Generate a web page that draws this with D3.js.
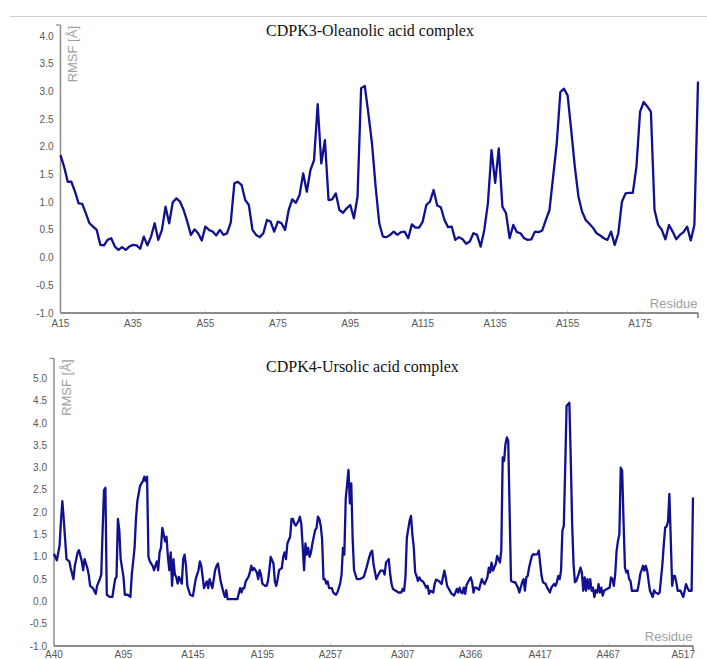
<!DOCTYPE html>
<html>
<head>
<meta charset="utf-8">
<script src="https://cdn.jsdelivr.net/npm/d3@7"></script>
<style>
  body { margin: 0; background: #fff; }
  svg { display: block; }
  .tick-lbl { font-family: "Liberation Sans", Arial, sans-serif; font-size: 10px; fill: #595959; }
  .ax-title { font-family: "Liberation Sans", Arial, sans-serif; font-size: 13px; fill: #a0a0a0; }
  .chart-title { font-family: "Liberation Serif", "Times New Roman", serif; font-size: 16px; fill: #111; }
</style>
</head>
<body>
<svg id="chart" width="707" height="659"></svg>
<script>
// ---- CDPK3 / oleanolic acid : one value per residue, A15 .. A191
var cdpk3FirstResidue = 15;
var cdpk3Rmsf = [
  1.85,1.64,1.37,1.37,1.19,0.98,0.97,0.8,0.62,0.56,
  0.5,0.23,0.22,0.32,0.35,0.2,0.14,0.19,0.14,0.2,
  0.23,0.22,0.16,0.38,0.22,0.38,0.62,0.32,0.5,0.92,
  0.62,1.0,1.07,1.01,0.86,0.65,0.41,0.51,0.44,0.31,
  0.56,0.5,0.47,0.4,0.5,0.41,0.44,0.63,1.34,1.37,
  1.31,1.04,0.95,0.5,0.41,0.37,0.44,0.68,0.65,0.47,
  0.65,0.62,0.5,0.86,1.05,0.99,1.13,1.52,1.19,1.58,
  1.76,2.77,1.7,2.12,1.04,1.05,1.16,0.86,0.81,0.89,
  0.95,0.71,1.1,3.06,3.1,2.6,2.06,1.28,0.62,0.38,
  0.37,0.41,0.47,0.41,0.46,0.47,0.35,0.6,0.54,0.54,
  0.65,0.95,1.01,1.22,0.94,0.91,0.68,0.55,0.56,0.32,
  0.37,0.33,0.25,0.29,0.44,0.41,0.2,0.5,0.98,1.94,
  1.35,1.97,0.92,0.8,0.35,0.59,0.46,0.44,0.35,0.32,
  0.33,0.47,0.46,0.49,0.68,0.86,1.46,2.06,2.99,3.05,
  2.93,2.3,1.64,1.1,0.83,0.68,0.61,0.54,0.44,0.4,
  0.35,0.32,0.47,0.23,0.44,1.01,1.16,1.17,1.17,1.64,
  2.63,2.81,2.73,2.63,0.86,0.59,0.5,0.33,0.59,0.47,
  0.33,0.41,0.46,0.56,0.31,0.59,3.18
];
var cdpk3TickResidues = [15, 35, 55, 75, 95, 115, 135, 155, 175];
var cdpk3YTicks = [-1, -0.5, 0, 0.5, 1, 1.5, 2, 2.5, 3, 3.5, 4];

// ---- CDPK4 / ursolic acid : position in the sequence (0..460) and RMSF
var cdpk4Pos = [
  0,2,4,5,6,7,8,9,11,12,14,15,17,18,20,21,22,24,25,26,28,30,31,33,34,35,36,37,38,40,
  42,44,45,46,47,48,50,51,53,55,56,58,59,60,62,63,64,65,66,67,68,69,70,71,72,74,75,76,77,78,
  80,81,82,83,84,85,86,87,88,89,90,92,93,94,95,96,98,100,102,104,105,106,107,108,110,111,112,113,114,116,
  117,118,119,120,122,123,124,125,129,132,134,135,136,137,138,140,141,142,143,144,146,147,148,149,150,152,153,154,155,156,
  158,159,160,161,162,164,165,166,167,168,170,171,172,173,174,176,177,178,179,180,181,182,183,184,185,186,188,189,190,191,
  192,193,194,195,196,197,198,200,201,203,204,206,207,208,209,210,212,213,214,215,216,218,220,223,225,227,228,229,230,232,
  233,235,237,238,239,241,242,243,244,246,248,250,251,252,253,254,256,257,258,259,260,261,262,263,264,265,266,268,269,270,
  271,273,274,275,277,279,280,281,282,283,285,286,288,289,290,291,292,293,294,295,296,297,298,300,301,302,303,304,306,307,
  308,309,310,312,313,314,315,316,318,319,320,321,322,323,324,325,326,327,328,329,331,332,334,335,337,338,339,340,341,342,
  344,345,346,348,349,350,351,352,354,355,357,358,360,361,362,363,364,365,366,367,368,369,370,371,372,373,374,375,376,378,
  379,380,381,382,383,384,385,386,387,388,389,390,391,392,393,394,395,396,398,400,401,402,403,404,405,406,407,408,409,410,
  411,412,413,414,415,416,418,420,421,422,424,425,426,427,428,429,431,432,433,435,436,438,439,440,441,442,443,445,446,447,
  448,449,451,453,454,455,456,457,459,460
];
var cdpk4Rmsf = [
  1.07,0.92,1.25,1.8,2.25,1.85,1.4,0.95,0.9,0.75,0.5,0.8,1.1,1.15,0.9,0.7,0.95,0.75,0.6,0.35,0.3,0.17,0.35,0.5,0.6,1.6,2.5,2.55,0.15,0.1,
  0.1,0.5,0.55,1.85,1.6,0.95,0.55,0.15,0.15,0.1,0.6,1.2,1.85,2.25,2.6,2.65,2.7,2.8,2.7,2.8,1.0,0.9,0.85,0.8,0.7,0.9,0.7,1.1,1.2,1.65,
  1.35,1.45,1.0,0.7,1.1,0.35,0.95,0.6,0.55,0.4,0.55,0.4,0.95,1.05,0.8,0.35,0.15,0.12,0.5,0.7,0.9,0.8,0.55,0.3,0.45,0.3,0.5,0.4,0.3,0.7,
  0.8,0.85,0.65,0.45,0.2,0.1,0.25,0.05,0.05,0.05,0.3,0.2,0.3,0.3,0.45,0.55,0.65,0.8,0.7,0.75,0.65,0.5,0.7,0.6,0.4,0.35,0.35,0.45,0.7,1.0,
  0.85,0.45,0.35,0.5,0.7,0.75,1.0,1.1,0.95,1.3,1.45,1.85,1.85,1.75,1.7,1.8,1.9,1.75,1.25,0.7,1.3,1.05,1.2,1.0,1.1,1.3,1.6,1.65,1.9,1.85,
  1.7,1.4,0.5,0.5,0.4,0.45,0.3,0.3,0.2,0.15,0.2,0.4,0.6,1.2,1.05,2.3,2.95,2.2,2.65,1.4,0.7,0.5,0.5,0.55,0.76,1.0,1.1,1.14,0.84,0.5,
  0.57,0.69,0.69,0.6,0.87,0.95,0.61,0.39,0.28,0.24,0.2,0.2,0.28,0.24,0.54,1.43,1.81,1.92,1.5,1.21,0.65,0.57,0.46,0.54,0.48,0.46,0.43,0.31,0.35,0.17,
  0.24,0.2,0.39,0.49,0.46,0.39,0.54,0.69,0.54,0.35,0.24,0.18,0.13,0.2,0.28,0.2,0.31,0.2,0.18,0.31,0.17,0.37,0.43,0.54,0.43,0.2,0.31,0.31,0.26,0.39,
  0.5,0.43,0.39,0.54,0.76,0.65,0.87,0.69,0.84,1.02,0.95,0.87,1.14,3.23,3.15,3.53,3.68,3.6,2.0,0.46,0.43,0.43,0.31,0.2,0.43,0.5,0.24,0.54,0.57,0.76,
  1.02,1.06,1.05,1.06,1.14,0.84,0.57,0.43,0.39,0.31,0.2,0.31,0.39,0.35,0.43,0.57,0.5,0.69,1.59,1.7,3.0,4.39,4.42,4.46,3.2,1.74,0.84,0.43,0.46,0.64,
  0.76,0.65,0.24,0.54,0.24,0.5,0.28,0.5,0.24,0.31,0.1,0.25,0.2,0.39,0.2,0.31,0.13,0.24,0.28,0.31,0.54,0.5,0.35,0.61,1.14,1.36,1.51,3.0,2.93,1.8,
  0.76,0.65,0.69,0.5,0.46,0.24,0.24,0.24,0.39,0.61,0.8,0.69,0.8,0.69,0.46,0.24,0.1,0.25,0.2,0.17,0.2,0.84,1.29,1.66,1.68,1.79,2.41,0.35,0.57,0.57,
  0.43,0.24,0.24,0.1,0.24,0.39,0.31,0.24,0.24,2.33
];
var cdpk4TickPos = [0, 50, 100, 150, 199, 251, 300, 350, 399, 453];
var cdpk4TickLabels = ["A40","A95","A145","A195","A257","A307","A366","A417","A467","A517"];
var cdpk4YTicks = [-1, -0.5, 0, 0.5, 1, 1.5, 2, 2.5, 3, 3.5, 4, 4.5, 5];

var svg = d3.select("#chart");
var lineColor = "#101090";

// thin rule above the first panel
svg.append("line")
    .attr("x1", 10).attr("x2", 707).attr("y1", 16.5).attr("y2", 16.5)
    .attr("stroke", "#cfcfcf").attr("stroke-width", 1);

function drawPanel(p){
    var g = svg.append("g");
    var x = d3.scaleLinear().domain(p.xDomain).range([p.left, p.right]);
    var y = d3.scaleLinear().domain(p.yDomain).range([p.bottom, p.top]);

    // y tick labels (plain hyphen for negatives, as in the source)
    g.selectAll("text.ylbl").data(p.yTicks).enter().append("text")
        .attr("class", "tick-lbl")
        .attr("x", p.left - 7)
        .attr("y", function(d){ return y(d) + 3.5; })
        .attr("text-anchor", "end")
        .text(function(d){ return d.toFixed(1); });

    // x ticks (light marks on the axis) and labels
    g.selectAll("line.xt").data(p.xTicks).enter().append("line")
        .attr("x1", function(d){ return x(d); }).attr("x2", function(d){ return x(d); })
        .attr("y1", p.bottom - 3).attr("y2", p.bottom)
        .attr("stroke", "#d8d8d8").attr("stroke-width", 1);
    g.selectAll("text.xlbl").data(p.xTicks).enter().append("text")
        .attr("class", "tick-lbl")
        .attr("x", function(d){ return x(d); })
        .attr("y", p.bottom + p.xLabelDy)
        .attr("text-anchor", "middle")
        .text(function(d, i){ return p.xLabels[i]; });

    // axes
    g.append("line")
        .attr("x1", p.left).attr("x2", p.left).attr("y1", p.top).attr("y2", p.bottom)
        .attr("stroke", "#8c8c8c").attr("stroke-width", 1.5);
    g.append("line")
        .attr("x1", p.left - 4.5).attr("x2", p.left).attr("y1", p.top).attr("y2", p.top)
        .attr("stroke", "#8c8c8c").attr("stroke-width", 1.2);
    g.append("line")
        .attr("x1", p.left).attr("x2", p.right).attr("y1", p.bottom).attr("y2", p.bottom)
        .attr("stroke", "#8c8c8c").attr("stroke-width", 1.8);
    g.append("line")
        .attr("x1", p.right).attr("x2", p.right).attr("y1", p.bottom).attr("y2", p.bottom + 5)
        .attr("stroke", "#555").attr("stroke-width", 1.2);

    // axis titles
    g.append("text")
        .attr("class", "ax-title")
        .attr("transform", "translate(" + (p.left + 16.5) + "," + (p.top + 1) + ") rotate(-90)")
        .attr("text-anchor", "end")
        .text("RMSF [Å]");
    g.append("text")
        .attr("class", "ax-title")
        .attr("x", p.right - 0.5)
        .attr("y", p.bottom - 5)
        .attr("text-anchor", "end")
        .text("Residue");

    // the RMSF trace
    var line = d3.line()
        .x(function(d){ return x(d[0]); })
        .y(function(d){ return y(d[1]); });
    g.append("path")
        .datum(p.points)
        .attr("d", line)
        .attr("fill", "none")
        .attr("stroke", lineColor)
        .attr("stroke-width", 2.3)
        .attr("stroke-linejoin", "round");

    g.append("text")
        .attr("class", "chart-title")
        .attr("x", p.titleX)
        .attr("y", p.titleY)
        .text(p.title);
}

var cdpk3Points = cdpk3Rmsf.map(function(v, i){ return [cdpk3FirstResidue + i, v]; });
drawPanel({
    title: "CDPK3-Oleanolic acid complex", titleX: 266, titleY: 36,
    left: 60.5, right: 698, top: 25, bottom: 313,
    xDomain: [cdpk3FirstResidue, cdpk3FirstResidue + cdpk3Rmsf.length - 1],
    yDomain: [-1, 4.2],
    xTicks: cdpk3TickResidues,
    xLabels: cdpk3TickResidues.map(function(r){ return "A" + r; }),
    xLabelDy: 14,
    yTicks: cdpk3YTicks,
    points: cdpk3Points
});

var cdpk4Points = cdpk4Pos.map(function(p, i){ return [p, cdpk4Rmsf[i]]; });
drawPanel({
    title: "CDPK4-Ursolic acid complex", titleX: 266, titleY: 372,
    left: 54, right: 693, top: 358.5, bottom: 646,
    xDomain: [0, 460],
    yDomain: [-1, 5.45],
    xTicks: cdpk4TickPos,
    xLabels: cdpk4TickLabels,
    xLabelDy: 12,
    yTicks: cdpk4YTicks,
    points: cdpk4Points
});
</script>
</body>
</html>
